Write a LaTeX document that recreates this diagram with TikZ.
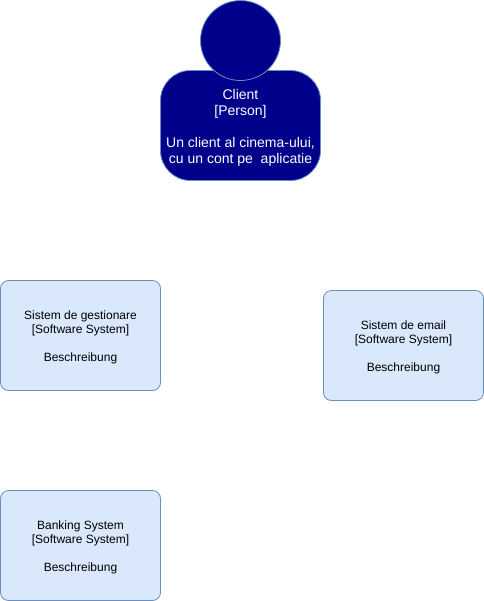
\documentclass[tikz,border=0pt]{standalone}
\usepackage{fontspec}
\setmainfont{Liberation Sans}
\definecolor{pfill}{HTML}{00008B}
\definecolor{pline}{HTML}{6C8EBF}
\definecolor{sfill}{HTML}{DAE8FC}
\newcommand{\sysstrut}{\rule{0pt}{9.5pt}}
\newcommand{\perstrut}{\rule{0pt}{10.6pt}}
\tikzset{
  px/.style={x=0.75pt,y=-0.75pt},
  sysbox/.style={draw=pline,fill=sfill,rounded corners=6pt,line width=0.6pt,minimum width=120pt,minimum height=82.5pt,inner sep=0pt,align=center,font=\fontsize{9}{10.5}\selectfont,text=black},
  personbody/.style={draw=pline,fill=pfill,rounded corners=22.5pt,line width=0.6pt,minimum width=120pt,minimum height=82.5pt,inner sep=0pt,align=center,font=\fontsize{10.5}{12}\selectfont,text=white},
  personhead/.style={draw=pline,fill=pfill,circle,line width=0.6pt,minimum size=60pt,inner sep=0pt}
}
\begin{document}
\begin{tikzpicture}[px]
\useasboundingbox (0,0) rectangle (484,601);
\node[personbody] (client) at (240.5,125.5) {\perstrut Client\\{[}Person{]}\\[12pt]Un client al cinema-ului,\\cu un cont pe\ \ aplicatie};
\node[personhead] (head) at (240.5,40.5) {};
\node[sysbox] (gest) at (80.5,335.5) {\sysstrut Sistem de gestionare\\{[}Software System{]}\\[10.5pt]Beschreibung};
\node[sysbox] (email) at (403.5,345.5) {\sysstrut Sistem de email\\{[}Software System{]}\\[10.5pt]Beschreibung};
\node[sysbox] (bank) at (80.5,545.5) {\sysstrut Banking System\\{[}Software System{]}\\[10.5pt]Beschreibung};
\end{tikzpicture}
\end{document}
